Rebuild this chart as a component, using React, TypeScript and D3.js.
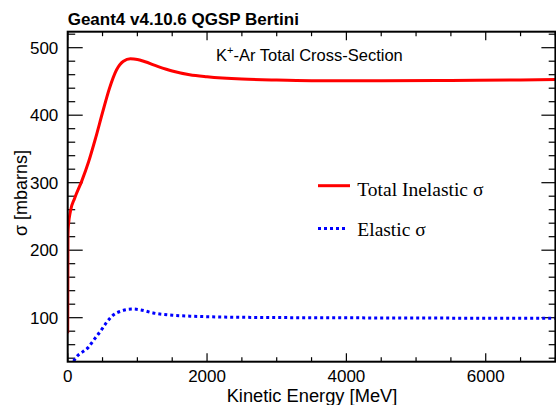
import React from "react";
import * as d3 from "d3";

const inelasticE = [0, 2, 4, 10, 40, 100, 200, 300, 400, 500, 600, 700, 800, 900, 1000, 1100, 1300, 1500, 1750, 2000, 2500, 3000, 3500, 4500, 5500, 6500, 7000];
const inelasticSigma = [77, 150, 222, 236, 258, 277, 302, 331, 366, 404, 440, 467, 480, 483.5, 482.5, 479.5, 472, 465.5, 460, 457, 453.5, 452, 451.2, 451, 451.5, 452.3, 452.8];

const elasticE = [40, 80, 129, 224, 296, 367, 463, 559, 654, 774, 869, 940, 1050, 1227, 1514, 1756, 2200, 3000, 4000, 4766, 6000, 7000];
const elasticSigma = [28, 35, 42.3, 50, 56, 66, 79, 93, 104, 110, 112.4, 112.8, 111.5, 107, 103.5, 102.3, 101, 100.2, 99.8, 99.6, 99.2, 99];

const xMajorTicks = [0, 2000, 4000, 6000];
const yMajorTicks = [100, 200, 300, 400, 500];

const W = 556, H = 405;
const L = 67.7, R = 555.4, T = 31.7, B = 361.7;

export default function App() {
  const x = d3.scaleLinear().domain([0, 7000]).range([L, R]);
  const y = d3.scaleLinear().domain([34.8, 523.7]).range([B, T]);
  const line = d3.line<[number, number]>().x(d => x(d[0])).y(d => y(d[1])).curve(d3.curveMonotoneX);
  const redPts = inelasticE.map((e, i) => [e, inelasticSigma[i]] as [number, number]);
  const bluePts = elasticE.map((e, i) => [e, elasticSigma[i]] as [number, number]);
  const xMinor = d3.range(0, 7001, 500).filter(v => v % 2000 !== 0);
  const yMinor = d3.range(40, 524, 20).filter(v => v % 100 !== 0);
  const sans = "'Liberation Sans', Arial, sans-serif";
  const serif = "'Liberation Serif', 'Times New Roman', serif";
  return (
    <svg width={W} height={H} style={{ position: "absolute", left: 0, top: 0, background: "#fff" }}>
      <defs>
        <clipPath id="plot"><rect x={L} y={T} width={R - L} height={B - T} /></clipPath>
      </defs>
      <rect x={0} y={0} width={W} height={H} fill="#fff" />
      <text x={67.7} y={25} fontFamily={sans} fontWeight="bold" fontSize={17}>Geant4 v4.10.6 QGSP Bertini</text>
      <g stroke="#000" strokeWidth={1.2}>
        {xMajorTicks.map(v => <line key={"xb" + v} x1={x(v)} x2={x(v)} y1={B} y2={B - 8.5} />)}
        {xMinor.map(v => <line key={"xbm" + v} x1={x(v)} x2={x(v)} y1={B} y2={B - 4.5} />)}
        {xMajorTicks.map(v => <line key={"xt" + v} x1={x(v)} x2={x(v)} y1={T} y2={T + 8.5} />)}
        {xMinor.map(v => <line key={"xtm" + v} x1={x(v)} x2={x(v)} y1={T} y2={T + 4.5} />)}
        {yMajorTicks.map(v => <line key={"yl" + v} x1={L} x2={L + 15} y1={y(v)} y2={y(v)} />)}
        {yMinor.map(v => <line key={"ylm" + v} x1={L} x2={L + 7.5} y1={y(v)} y2={y(v)} />)}
        {yMajorTicks.map(v => <line key={"yr" + v} x1={R} x2={R - 14} y1={y(v)} y2={y(v)} />)}
        {yMinor.map(v => <line key={"yrm" + v} x1={R} x2={R - 6.7} y1={y(v)} y2={y(v)} />)}
      </g>
      <g clipPath="url(#plot)">
        <path d={line(bluePts) || ""} fill="none" stroke="#0000ff" strokeWidth={3} strokeDasharray="3 3" />
        <path d={line(redPts) || ""} fill="none" stroke="#ff0000" strokeWidth={3} />
      </g>
      <rect x={L} y={T} width={R - L} height={B - T} fill="none" stroke="#000" strokeWidth={2} />
      {yMajorTicks.map(v => (
        <text key={"yt" + v} x={58.3} y={y(v) + 6.1} textAnchor="end" fontFamily={sans} fontSize={17}>{v}</text>
      ))}
      {xMajorTicks.map(v => (
        <text key={"xtl" + v} x={x(v)} y={382} textAnchor="middle" fontFamily={sans} fontSize={17}>{v}</text>
      ))}
      <text x={312} y={402} textAnchor="middle" fontFamily={sans} fontSize={18.3}>Kinetic Energy [MeV]</text>
      <text transform="translate(27,193) rotate(-90)" textAnchor="middle" fontFamily={sans} fontSize={18}>σ [mbarns]</text>
      <text x={216} y={60.7} fontFamily={sans} fontSize={16.5}>
        K<tspan fontSize={11} dy={-6.5}>+</tspan><tspan dy={6.5}>-Ar Total Cross-Section</tspan>
      </text>
      <line x1={318} x2={350} y1={185.7} y2={185.7} stroke="#ff0000" strokeWidth={3} />
      <text x={357.3} y={195.7} fontFamily={serif} fontSize={19.5}>Total Inelastic σ</text>
      <line x1={318} x2={348} y1={228.5} y2={228.5} stroke="#0000ff" strokeWidth={3} strokeDasharray="3 3" />
      <text x={357.3} y={236} fontFamily={serif} fontSize={19.5}>Elastic σ</text>
    </svg>
  );
}
